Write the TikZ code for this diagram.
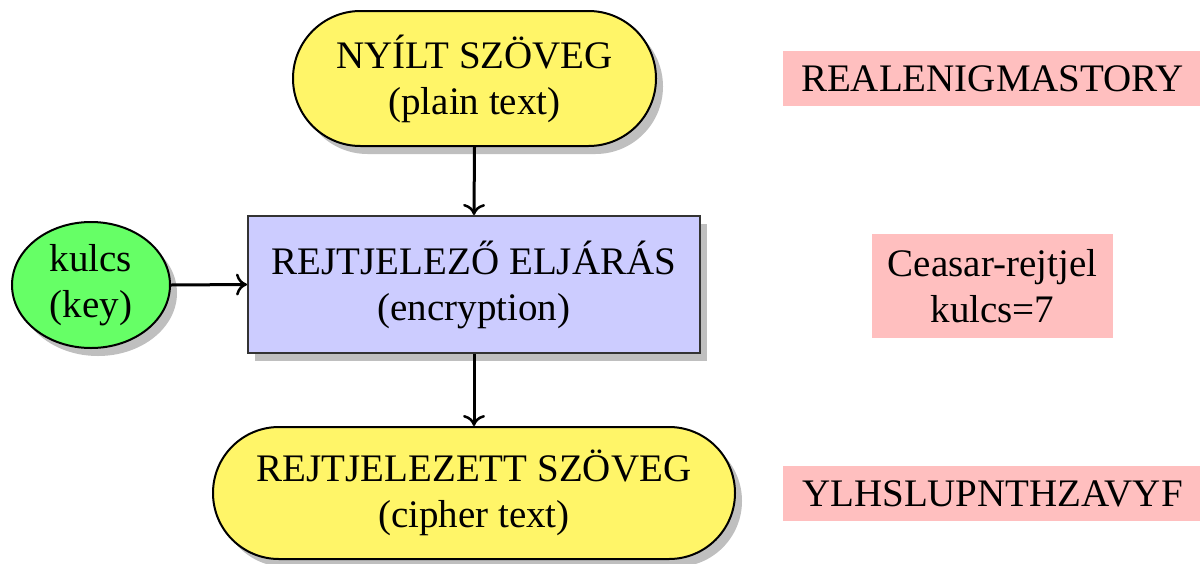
\documentclass[tikz,border=0pt]{standalone}
\usepackage{fontspec}
\setmainfont{Liberation Serif}
\usetikzlibrary{shapes.misc,shapes.geometric,shadows,arrows.meta}
\definecolor{yel}{RGB}{255,245,104}
\definecolor{blu}{RGB}{204,204,255}
\definecolor{grn}{RGB}{102,255,102}
\definecolor{pnk}{RGB}{255,191,191}
\tikzset{
  big/.style={font=\fontsize{39}{46}\selectfont, align=center, text=black},
  shad/.style={drop shadow={shadow xshift=7pt, shadow yshift=-8pt, fill=black!25, opacity=1}},
  stadium/.style={big, rounded rectangle, draw=black, line width=2pt, fill=yel, shad, inner sep=0pt},
  procbox/.style={big, rectangle, draw=black!80, line width=2pt, fill=blu, shad, inner sep=0pt},
  keyell/.style={big, ellipse, draw=black, line width=2pt, fill=grn, shad, inner sep=0pt},
  note/.style={big, rectangle, fill=pnk, inner sep=0pt},
  conn/.style={-{To[length=11pt, width=22pt, line width=2.5pt]}, line width=3pt, draw=black}
}
\begin{document}
\begin{tikzpicture}[x=1pt, y=-1pt]
\useasboundingbox (0,0) rectangle (1200,563);
\node[stadium, minimum width=363pt, minimum height=135pt] (plain) at (474.5,78.5) {NYÍLT SZÖVEG\\(plain text)};
\node[procbox, minimum width=452pt, minimum height=137pt] (enc) at (474,284.5) {REJTJELEZŐ ELJÁRÁS\\(encryption)};
\node[keyell, minimum width=158pt, minimum height=126pt] (key) at (91,285) {kulcs\\(key)};
\node[stadium, minimum width=522pt, minimum height=132pt] (ciph) at (474,493) {REJTJELEZETT SZÖVEG\\(cipher text)};
\node[note, minimum width=419pt, minimum height=55pt] (n1) at (992.5,78.5) {REALENIGMASTORY};
\node[note, minimum width=241pt, minimum height=104pt] (n2) at (992.5,286) {Ceasar-rejtjel\\kulcs=7};
\node[note, minimum width=419pt, minimum height=55pt] (n3) at (992.5,493.5) {YLHSLUPNTHZAVYF};
\draw[conn] (plain.south) -- (enc.north);
\draw[conn] (key.east) -- (enc.west);
\draw[conn] (enc.south) -- (ciph.north);
\end{tikzpicture}
\end{document}
